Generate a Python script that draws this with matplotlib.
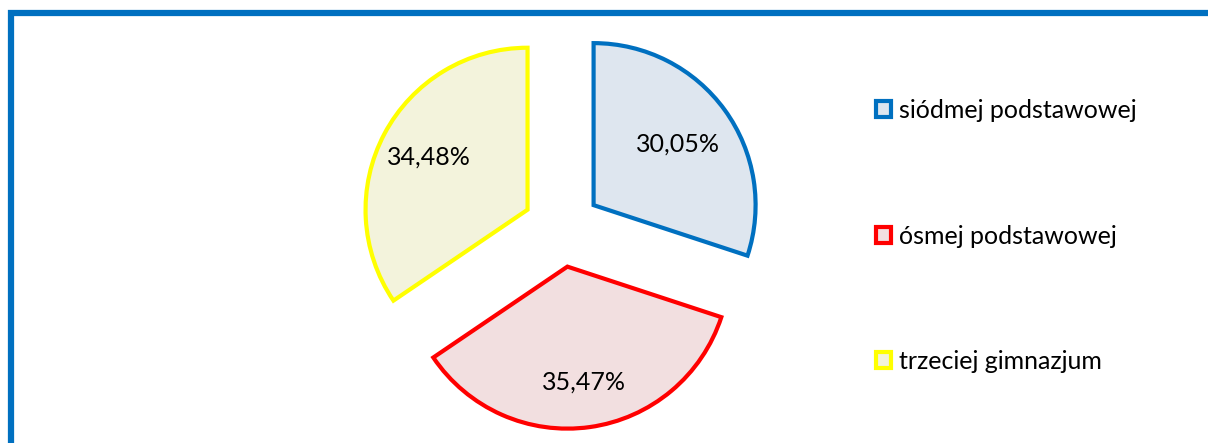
import numpy as np
import matplotlib.pyplot as plt
from matplotlib.patches import Rectangle

plt.rcParams['font.family'] = ['Lato', 'DejaVu Sans']

labels = ['siódmej podstawowej', 'ósmej podstawowej', 'trzeciej gimnazjum']
values = [30.05, 35.47, 34.48]
edge_colors = ['#0070C0', '#FF0000', '#FFFF00']
fill_colors = ['#DEE6EF', '#F2DFE0', '#F3F3DC']
label_dist = [0.64, 0.72, 0.69]

W, H = 1208, 443
fig = plt.figure(figsize=(W / 100, H / 100), dpi=100)
ax = fig.add_axes([0, 0, 1, 1])

# blue frame, cut off at right and bottom
fig.patches.append(Rectangle((10.5 / W, -0.2), 1.5, 1 - 12.5 / H + 0.2,
                             transform=fig.transFigure, fill=False,
                             edgecolor='#0070C0', linewidth=4.5))

# explode is in data units here (axes span pixels)
wedges, texts, autotexts = ax.pie(
    values, center=(562, H - 228), radius=162, startangle=90, counterclock=False,
    explode=[39] * 3, colors=fill_colors,
    autopct=lambda p: f'{p:.2f}%'.replace('.', ','), pctdistance=0.66,
    wedgeprops=dict(linewidth=3, joinstyle='miter'),
    textprops=dict(fontsize=18, color='black'), frame=True)
for w, t, ec, d in zip(wedges, autotexts, edge_colors, label_dist):
    w.set_edgecolor(ec)
    th = np.deg2rad((w.theta1 + w.theta2) / 2)
    cx, cy = w.center
    t.set_position((cx + d * w.r * np.cos(th), cy + d * w.r * np.sin(th)))
ax.set_xlim(0, W)
ax.set_ylim(0, H)
ax.set_aspect('equal')
ax.axis('off')

leg = ax.legend(wedges, labels, loc='center left', bbox_to_anchor=(866 / W, 1 - 236 / H),
                frameon=False, fontsize=18, handlelength=0.6, handleheight=0.6,
                handletextpad=0.3, labelspacing=4.1, borderaxespad=0)

fig.savefig('out.png', dpi=100)
